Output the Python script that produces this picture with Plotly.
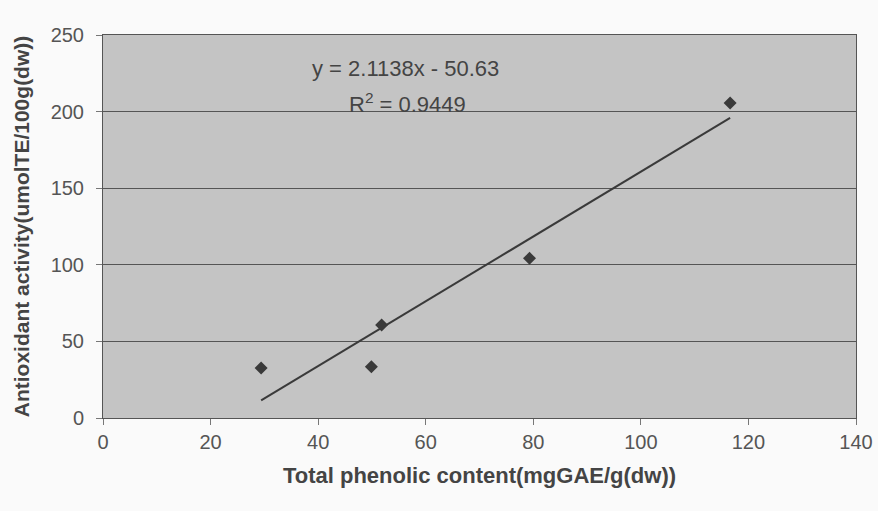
import plotly.graph_objects as go

phenolic = [29.4, 49.9, 51.8, 79.3, 116.6]
antioxidant = [32.6, 33.5, 60.7, 104.2, 205.6]
slope = 2.1138
intercept = -50.63
x_ticks = [0, 20, 40, 60, 80, 100, 120, 140]
y_ticks = [0, 50, 100, 150, 200, 250]

line_x = [min(phenolic), max(phenolic)]
line_y = [slope * v + intercept for v in line_x]

font_family = "Liberation Sans, Arial, sans-serif"

fig = go.Figure()
fig.add_trace(go.Scatter(x=line_x, y=line_y, mode="lines",
                         line=dict(color="#3a3a3a", width=2), showlegend=False))
fig.add_trace(go.Scatter(x=phenolic, y=antioxidant, mode="markers",
                         marker=dict(symbol="diamond", size=10, color="#3a3a3a"),
                         showlegend=False))

fig.add_annotation(x=56.3, y=228, xref="x", yref="y", text="y = 2.1138x - 50.63",
                   showarrow=False, font=dict(size=22, color="#444", family=font_family))
fig.add_annotation(x=56.7, y=205.5, xref="x", yref="y", text="R<sup>2</sup> = 0.9449",
                   showarrow=False, font=dict(size=22, color="#444", family=font_family))

fig.update_layout(
    width=878, height=511,
    margin=dict(l=103, r=22, t=35, b=93),
    paper_bgcolor="#fafafa",
    plot_bgcolor="#c4c4c4",
    font=dict(family=font_family, color="#444"),
)
fig.update_xaxes(range=[0, 140], tickvals=x_ticks, showgrid=False, zeroline=False,
                 showline=True, linecolor="#555", linewidth=1, mirror=True,
                 ticks="outside", ticklen=6, tickcolor="#777",
                 ticklabeloverflow="allow", automargin=False,
                 tickfont=dict(size=20, color="#555"),
                 title=dict(text="<b>Total phenolic content(mgGAE/g(dw))</b>",
                            font=dict(size=22, color="#444")))
fig.update_yaxes(range=[0, 250], tickvals=y_ticks, showgrid=True, gridcolor="#555",
                 gridwidth=1, zeroline=False,
                 showline=True, linecolor="#555", linewidth=1, mirror=True,
                 ticks="outside", ticklen=6, tickcolor="#777",
                 ticklabelstandoff=8, automargin=False,
                 tickfont=dict(size=20, color="#555"),
                 title=dict(text="<b>Antioxidant activity(umolTE/100g(dw))</b>",
                            font=dict(size=21, color="#444")))

fig.write_html("out.html", config={"displayModeBar": False},
               post_script="document.body.style.margin='0';document.body.style.overflow='hidden';")
